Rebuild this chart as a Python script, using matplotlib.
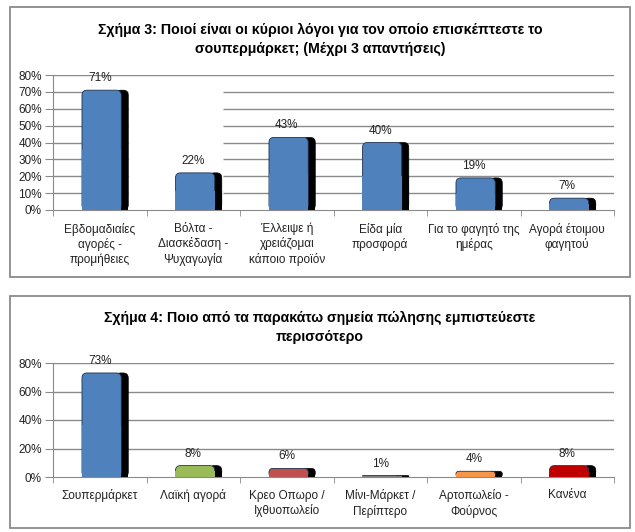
import matplotlib.pyplot as plt
from matplotlib.patches import Rectangle, FancyBboxPatch
from matplotlib.ticker import FixedLocator

plt.rcParams['font.family'] = ['Liberation Sans', 'DejaVu Sans']

title3 = "Σχήμα 3: Ποιοί είναι οι κύριοι λόγοι για τον οποίο επισκέπτεστε το\nσουπερμάρκετ; (Μέχρι 3 απαντήσεις)"
reasons = ["Εβδομαδιαίες\nαγορές -\nπρομήθειες", "Βόλτα -\nΔιασκέδαση -\nΨυχαγωγία",
           "Έλλειψε ή\nχρειάζομαι\nκάποιο προϊόν", "Είδα μία\nπροσφορά",
           "Για το φαγητό της\nημέρας", "Αγορά έτοιμου\nφαγητού"]
reason_pct = [71, 22, 43, 40, 19, 7]
reason_ticks = [0, 10, 20, 30, 40, 50, 60, 70, 80]

title4 = "Σχήμα 4: Ποιο από τα παρακάτω σημεία πώλησης εμπιστεύεστε\nπερισσότερο"
shops = ["Σουπερμάρκετ", "Λαϊκή αγορά", "Κρεο Οπωρο /\nΙχθυοπωλείο", "Μίνι-Μάρκετ /\nΠερίπτερο",
         "Αρτοπωλείο -\nΦούρνος", "Κανένα"]
shop_pct = [73, 8, 6, 1, 4, 8]
shop_ticks = [0, 20, 40, 60, 80]
shop_colors = ["#4F81BD", "#9BBB59", "#C0504D", "#7F7F7F", "#F79646", "#C00000"]

W, H = 635, 532
fig = plt.figure(figsize=(W / 100, H / 100), dpi=100)

# panel frames
for (x0, y0, x1, y1) in [(10, 7, 630, 277), (10, 296, 630, 528)]:
    fig.patches.append(Rectangle((x0 / W, 1 - y1 / H), (x1 - x0) / W, (y1 - y0) / H,
                                 transform=fig.transFigure, fill=False,
                                 edgecolor="#8a8a8a", linewidth=1.3))

fig.text(320 / W, 1 - 39 / H, title3, ha="center", va="center", fontsize=10.2,
         fontweight="bold", linespacing=1.45)
fig.text(320 / W, 1 - 327 / H, title4, ha="center", va="center", fontsize=10.2,
         fontweight="bold", linespacing=1.45)

ax1 = fig.add_axes([53 / W, 1 - 210 / H, 561 / W, 135 / H])
ax2 = fig.add_axes([53 / W, 1 - 477 / H, 561 / W, 114 / H])


def style(ax, labels, ticks, top):
    n = len(labels)
    ax.set_xlim(-0.5, n - 0.5)
    ax.set_ylim(0, top)
    for s in ["top", "right"]:
        ax.spines[s].set_visible(False)
    for s in ["left", "bottom"]:
        ax.spines[s].set_color("#8a8a8a")
        ax.spines[s].set_zorder(6)
    ax.set_xticks(range(n))
    ax.set_xticklabels(labels, fontsize=8.5, linespacing=1.25, color="#222222")
    ax.xaxis.set_minor_locator(FixedLocator([i - 0.5 for i in range(n + 1)]))
    ax.tick_params(axis="x", which="major", length=0, pad=9)
    ax.tick_params(axis="x", which="minor", length=4, color="#8a8a8a")
    ax.set_yticks(ticks)
    ax.set_yticklabels([f"{t}%" for t in ticks], fontsize=8.5, color="#222222")
    ax.tick_params(axis="y", length=6, color="#8a8a8a", pad=2)


def rbar(ax, x0, w, h, color, ec, lw, z, xpp, ypp):
    # bar with rounded top corners (radius ~5 px)
    r = 5 * xpp
    asp = ypp / xpp
    if h < 2.2 * r * asp:
        r = h / (2.2 * asp)
    p = FancyBboxPatch((x0, 0), w, h, boxstyle=f"round,pad=0,rounding_size={r}",
                       mutation_aspect=asp, facecolor=color, edgecolor=ec, linewidth=lw, zorder=z)
    ax.add_patch(p)
    ax.add_patch(Rectangle((x0, 0), w, h / 2, facecolor=color, edgecolor="none", zorder=z + 0.1))


def bars(ax, vals, colors, px_h):
    xpp = 6 / 561
    ypp = 80 / px_h
    if isinstance(colors, str):
        colors = [colors] * len(vals)
    for i, (v, c) in enumerate(zip(vals, colors)):
        rbar(ax, i + 0.17, 0.135, v, "black", "black", 0.5, 3, xpp, ypp)
        rbar(ax, i - 0.19, 0.42, v, c, "#1f3450", 0.6, 4, xpp, ypp)
        ax.text(i + 0.0, v + 12 * ypp, f"{v}%", ha="center", va="center",
                fontsize=8.5, color="#222222", zorder=5)


style(ax1, reasons, reason_ticks, 80)
ax1.axhline(80, color="#8a8a8a", lw=1, zorder=1)
for t in reason_ticks[1:-1]:
    ax1.hlines(t, -0.5, 0.3, color="#8a8a8a", lw=1, zorder=1)
    ax1.hlines(t, 1.32, 5.5, color="#8a8a8a", lw=1, zorder=1)
bars(ax1, reason_pct, "#4F81BD", 135)

style(ax2, shops, shop_ticks, 80)
for t in shop_ticks[1:]:
    ax2.axhline(t, color="#8a8a8a", lw=1, zorder=1)
bars(ax2, shop_pct, shop_colors, 114)

fig.savefig("out.png", dpi=100)
